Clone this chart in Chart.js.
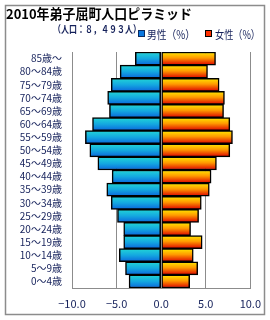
<!DOCTYPE html>
<html>
<head>
<meta charset="utf-8">
<script src="https://cdn.jsdelivr.net/npm/chart.js@4.4.1/dist/chart.umd.min.js"></script>
<style>
  html, body { margin: 0; padding: 0; background: #fff; }
  #wrap { width: 270px; height: 320px; position: relative; }
</style>
</head>
<body>
<div id="wrap"><canvas id="pyramid" width="270" height="320"></canvas></div>
<script>
const ageGroups = ["85歳～", "80～84歳", "75～79歳", "70～74歳", "65～69歳", "60～64歳",
  "55～59歳", "50～54歳", "45～49歳", "40～44歳", "35～39歳", "30～34歳",
  "25～29歳", "20～24歳", "15～19歳", "10～14歳", "5～9歳", "0～4歳"];
const maleShare = [2.9, 4.6, 5.6, 6.0, 5.8, 7.7, 8.5, 8.0, 7.1, 5.5, 6.1, 5.6, 4.9, 4.2, 4.2, 4.7, 4.0, 3.6];
const femaleShare = [6.1, 5.2, 6.5, 7.1, 7.0, 7.7, 8.0, 7.7, 6.2, 5.6, 5.4, 4.5, 4.2, 3.3, 4.6, 3.6, 4.1, 3.2];
const xTicks = [-10, -5, 0, 5, 10];

const textColor = "#14205a";
const jp = "'Noto Sans CJK JP', 'Noto Sans', sans-serif";

// vertical gradient per bar
function barGradient(context, stops) {
  const chart = context.chart;
  if (!chart.chartArea || context.type !== "data") return stops[0][1];
  const yScale = chart.scales.y;
  const yc = yScale.getPixelForValue(context.dataIndex);
  const h = (chart.chartArea.bottom - chart.chartArea.top) / ageGroups.length;
  const g = chart.ctx.createLinearGradient(0, yc - h / 2, 0, yc + h / 2);
  stops.forEach(s => g.addColorStop(s[0], s[1]));
  return g;
}
const maleStops = [[0, "#22d6d6"], [0.5, "#14a8e0"], [1, "#0a66dc"]];
const femaleStops = [[0, "#ffea00"], [0.45, "#ff9a00"], [1, "#dc0000"]];

const decorations = {
  id: "decorations",
  beforeDraw(chart) {
    const c = chart.ctx;
    c.save();
    c.strokeStyle = "#8c8c8c";
    c.lineWidth = 1.5;
    c.strokeRect(5.5, 5.5, 259, 309);
    c.restore();
  },
  afterDatasetsDraw(chart) {
    const c = chart.ctx;
    const x0 = chart.scales.x.getPixelForValue(0);
    c.save();
    c.strokeStyle = "#8c8c8c";
    c.lineWidth = 1;
    c.beginPath();
    c.moveTo(Math.round(x0) + 0.5, chart.chartArea.top);
    c.lineTo(Math.round(x0) + 0.5, chart.chartArea.bottom);
    c.stroke();
    c.restore();
  },
  afterDraw(chart) {
    const c = chart.ctx;
    c.save();
    c.fillStyle = "#000";
    c.textBaseline = "alphabetic";
    c.font = "bold 13.5px " + jp;
    c.fillText("2010年弟子屈町人口ピラミッド", 6, 19, 186);
    c.fillStyle = textColor;
    c.font = "bold 10px " + jp;
    c.fillText("（人口：８，４９３人）", 53, 33, 88);
    // legend
    c.font = "11.5px " + jp;
    c.lineWidth = 1;
    c.fillStyle = "#0a78e0";
    c.fillRect(138, 30, 7, 7);
    c.strokeStyle = "#0a2a60";
    c.strokeRect(138.5, 30.5, 6, 6);
    c.fillStyle = textColor;
    c.fillText("男性（%）", 147, 38.5, 48);
    c.fillStyle = "#ff3000";
    c.fillRect(205, 30, 7, 7);
    c.strokeStyle = "#000";
    c.strokeRect(205.5, 30.5, 6, 6);
    c.fillStyle = textColor;
    c.fillText("女性（%）", 215, 38.5, 45);
    c.restore();
  }
};

new Chart(document.getElementById("pyramid"), {
  type: "bar",
  data: {
    labels: ageGroups,
    datasets: [
      {
        label: "男性（%）",
        data: maleShare.map(v => -v),
        backgroundColor: ctx => barGradient(ctx, maleStops),
        borderColor: "#000",
        borderWidth: 1.5,
        borderSkipped: false
      },
      {
        label: "女性（%）",
        data: femaleShare,
        backgroundColor: ctx => barGradient(ctx, femaleStops),
        borderColor: "#000",
        borderWidth: 1.5,
        borderSkipped: false
      }
    ]
  },
  options: {
    indexAxis: "y",
    responsive: false,
    animation: false,
    layout: { padding: { top: 52, right: 18, bottom: 0, left: 0 } },
    plugins: {
      legend: { display: false },
      title: { display: false },
      tooltip: { enabled: false }
    },
    datasets: { bar: { barPercentage: 1, categoryPercentage: 1 } },
    scales: {
      x: {
        stacked: true,
        min: -10,
        max: 10,
        afterFit: s => { s.height = 32; },
        afterBuildTicks: s => { s.ticks = xTicks.map(v => ({ value: v })); },
        grid: { color: "#8c8c8c", drawTicks: false },
        border: { color: "#8c8c8c" },
        ticks: {
          padding: 9,
          color: textColor,
          font: { family: jp, size: 11 },
          callback: v => (v < 0 ? "−" : "") + Math.abs(v).toFixed(1)
        }
      },
      y: {
        stacked: true,
        afterFit: s => { s.width = 72; },
        grid: { display: false, drawTicks: false },
        border: { color: "#8c8c8c" },
        ticks: {
          autoSkip: false,
          padding: 10,
          color: textColor,
          font: { family: jp, size: 10 }
        }
      }
    }
  },
  plugins: [decorations]
});
</script>
</body>
</html>
